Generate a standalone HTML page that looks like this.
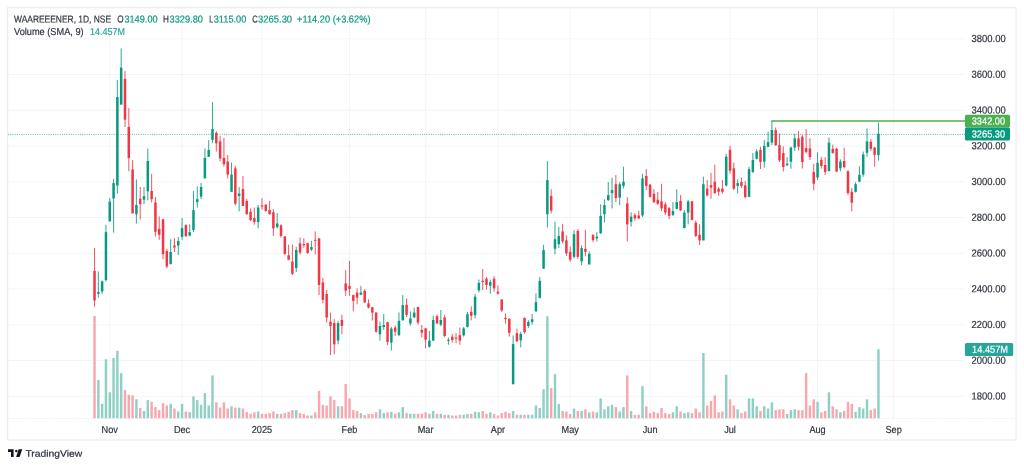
<!DOCTYPE html>
<html><head><meta charset="utf-8"><title>WAAREEENER chart</title>
<style>html,body{margin:0;padding:0;background:#fff;overflow:hidden}</style></head>
<body>
<svg width="1024" height="467" viewBox="0 0 1024 467" style="display:block;will-change:transform;opacity:0.999" text-rendering="geometricPrecision">
<rect width="1024" height="467" fill="#fff"/>
<g stroke="#f2f5f7" stroke-width="1">
<line x1="8" y1="396.30" x2="964.5" y2="396.30"/>
<line x1="8" y1="360.55" x2="964.5" y2="360.55"/>
<line x1="8" y1="324.80" x2="964.5" y2="324.80"/>
<line x1="8" y1="289.05" x2="964.5" y2="289.05"/>
<line x1="8" y1="253.30" x2="964.5" y2="253.30"/>
<line x1="8" y1="217.55" x2="964.5" y2="217.55"/>
<line x1="8" y1="181.80" x2="964.5" y2="181.80"/>
<line x1="8" y1="146.05" x2="964.5" y2="146.05"/>
<line x1="8" y1="110.30" x2="964.5" y2="110.30"/>
<line x1="8" y1="74.55" x2="964.5" y2="74.55"/>
<line x1="8" y1="38.80" x2="964.5" y2="38.80"/>
<line x1="109.76" y1="8" x2="109.76" y2="418.5"/>
<line x1="182.06" y1="8" x2="182.06" y2="418.5"/>
<line x1="261.97" y1="8" x2="261.97" y2="418.5"/>
<line x1="349.50" y1="8" x2="349.50" y2="418.5"/>
<line x1="425.60" y1="8" x2="425.60" y2="418.5"/>
<line x1="497.90" y1="8" x2="497.90" y2="418.5"/>
<line x1="570.20" y1="8" x2="570.20" y2="418.5"/>
<line x1="650.11" y1="8" x2="650.11" y2="418.5"/>
<line x1="730.03" y1="8" x2="730.03" y2="418.5"/>
<line x1="817.55" y1="8" x2="817.55" y2="418.5"/>
<line x1="893.60" y1="8" x2="893.60" y2="418.5"/>
</g>
<g>
<rect x="93.32" y="316.00" width="2.44" height="102.60" fill="#f9a7ae"/>
<rect x="97.13" y="380.10" width="2.44" height="38.50" fill="#8ed0c6"/>
<rect x="100.93" y="403.80" width="2.44" height="14.80" fill="#8ed0c6"/>
<rect x="104.74" y="359.20" width="2.44" height="59.40" fill="#8ed0c6"/>
<rect x="108.54" y="392.30" width="2.44" height="26.30" fill="#8ed0c6"/>
<rect x="112.35" y="357.90" width="2.44" height="60.70" fill="#8ed0c6"/>
<rect x="116.15" y="350.80" width="2.44" height="67.80" fill="#8ed0c6"/>
<rect x="119.96" y="373.10" width="2.44" height="45.50" fill="#8ed0c6"/>
<rect x="123.76" y="390.10" width="2.44" height="28.50" fill="#f9a7ae"/>
<rect x="127.57" y="394.80" width="2.44" height="23.80" fill="#f9a7ae"/>
<rect x="131.37" y="395.40" width="2.44" height="23.20" fill="#f9a7ae"/>
<rect x="135.18" y="399.30" width="2.44" height="19.30" fill="#8ed0c6"/>
<rect x="138.98" y="408.00" width="2.44" height="10.60" fill="#f9a7ae"/>
<rect x="142.79" y="411.00" width="2.44" height="7.60" fill="#8ed0c6"/>
<rect x="146.59" y="400.10" width="2.44" height="18.50" fill="#8ed0c6"/>
<rect x="150.40" y="401.80" width="2.44" height="16.80" fill="#f9a7ae"/>
<rect x="154.20" y="407.10" width="2.44" height="11.50" fill="#f9a7ae"/>
<rect x="158.01" y="410.10" width="2.44" height="8.50" fill="#f9a7ae"/>
<rect x="161.82" y="403.10" width="2.44" height="15.50" fill="#f9a7ae"/>
<rect x="165.62" y="405.50" width="2.44" height="13.10" fill="#f9a7ae"/>
<rect x="169.43" y="403.80" width="2.44" height="14.80" fill="#8ed0c6"/>
<rect x="173.23" y="408.50" width="2.44" height="10.10" fill="#f9a7ae"/>
<rect x="177.04" y="411.50" width="2.44" height="7.10" fill="#8ed0c6"/>
<rect x="180.84" y="403.80" width="2.44" height="14.80" fill="#8ed0c6"/>
<rect x="184.65" y="411.50" width="2.44" height="7.10" fill="#f9a7ae"/>
<rect x="188.45" y="412.10" width="2.44" height="6.50" fill="#8ed0c6"/>
<rect x="192.26" y="396.30" width="2.44" height="22.30" fill="#8ed0c6"/>
<rect x="196.06" y="400.10" width="2.44" height="18.50" fill="#8ed0c6"/>
<rect x="199.87" y="404.80" width="2.44" height="13.80" fill="#8ed0c6"/>
<rect x="203.67" y="393.10" width="2.44" height="25.50" fill="#8ed0c6"/>
<rect x="207.48" y="405.50" width="2.44" height="13.10" fill="#8ed0c6"/>
<rect x="211.28" y="375.40" width="2.44" height="43.20" fill="#8ed0c6"/>
<rect x="215.09" y="402.30" width="2.44" height="16.30" fill="#f9a7ae"/>
<rect x="218.89" y="407.60" width="2.44" height="11.00" fill="#f9a7ae"/>
<rect x="222.70" y="402.30" width="2.44" height="16.30" fill="#f9a7ae"/>
<rect x="226.51" y="408.50" width="2.44" height="10.10" fill="#f9a7ae"/>
<rect x="230.31" y="406.30" width="2.44" height="12.30" fill="#8ed0c6"/>
<rect x="234.12" y="407.60" width="2.44" height="11.00" fill="#f9a7ae"/>
<rect x="237.92" y="407.60" width="2.44" height="11.00" fill="#8ed0c6"/>
<rect x="241.73" y="408.50" width="2.44" height="10.10" fill="#f9a7ae"/>
<rect x="245.53" y="412.10" width="2.44" height="6.50" fill="#f9a7ae"/>
<rect x="249.34" y="413.80" width="2.44" height="4.80" fill="#f9a7ae"/>
<rect x="253.14" y="412.30" width="2.44" height="6.30" fill="#f9a7ae"/>
<rect x="256.95" y="411.50" width="2.44" height="7.10" fill="#8ed0c6"/>
<rect x="260.75" y="413.80" width="2.44" height="4.80" fill="#f9a7ae"/>
<rect x="264.56" y="413.80" width="2.44" height="4.80" fill="#f9a7ae"/>
<rect x="268.36" y="413.10" width="2.44" height="5.50" fill="#f9a7ae"/>
<rect x="272.17" y="411.50" width="2.44" height="7.10" fill="#f9a7ae"/>
<rect x="275.97" y="413.80" width="2.44" height="4.80" fill="#8ed0c6"/>
<rect x="279.78" y="413.80" width="2.44" height="4.80" fill="#f9a7ae"/>
<rect x="283.58" y="413.10" width="2.44" height="5.50" fill="#f9a7ae"/>
<rect x="287.39" y="411.80" width="2.44" height="6.80" fill="#f9a7ae"/>
<rect x="291.20" y="410.10" width="2.44" height="8.50" fill="#f9a7ae"/>
<rect x="295.00" y="410.10" width="2.44" height="8.50" fill="#8ed0c6"/>
<rect x="298.81" y="413.10" width="2.44" height="5.50" fill="#f9a7ae"/>
<rect x="302.61" y="413.80" width="2.44" height="4.80" fill="#f9a7ae"/>
<rect x="306.42" y="415.50" width="2.44" height="3.10" fill="#f9a7ae"/>
<rect x="310.22" y="415.50" width="2.44" height="3.10" fill="#8ed0c6"/>
<rect x="314.03" y="412.30" width="2.44" height="6.30" fill="#f9a7ae"/>
<rect x="317.83" y="390.90" width="2.44" height="27.70" fill="#f9a7ae"/>
<rect x="321.64" y="404.80" width="2.44" height="13.80" fill="#f9a7ae"/>
<rect x="325.44" y="405.50" width="2.44" height="13.10" fill="#f9a7ae"/>
<rect x="329.25" y="396.30" width="2.44" height="22.30" fill="#f9a7ae"/>
<rect x="333.05" y="400.10" width="2.44" height="18.50" fill="#f9a7ae"/>
<rect x="336.86" y="406.30" width="2.44" height="12.30" fill="#8ed0c6"/>
<rect x="340.66" y="406.30" width="2.44" height="12.30" fill="#f9a7ae"/>
<rect x="344.47" y="383.90" width="2.44" height="34.70" fill="#f9a7ae"/>
<rect x="348.28" y="398.40" width="2.44" height="20.20" fill="#f9a7ae"/>
<rect x="352.08" y="410.10" width="2.44" height="8.50" fill="#f9a7ae"/>
<rect x="355.89" y="411.00" width="2.44" height="7.60" fill="#f9a7ae"/>
<rect x="359.69" y="413.10" width="2.44" height="5.50" fill="#8ed0c6"/>
<rect x="363.50" y="415.10" width="2.44" height="3.50" fill="#f9a7ae"/>
<rect x="367.30" y="414.00" width="2.44" height="4.60" fill="#f9a7ae"/>
<rect x="371.11" y="414.00" width="2.44" height="4.60" fill="#f9a7ae"/>
<rect x="374.91" y="412.30" width="2.44" height="6.30" fill="#f9a7ae"/>
<rect x="378.72" y="409.30" width="2.44" height="9.30" fill="#8ed0c6"/>
<rect x="382.52" y="413.10" width="2.44" height="5.50" fill="#8ed0c6"/>
<rect x="386.33" y="412.30" width="2.44" height="6.30" fill="#f9a7ae"/>
<rect x="390.13" y="411.80" width="2.44" height="6.80" fill="#8ed0c6"/>
<rect x="393.94" y="413.80" width="2.44" height="4.80" fill="#f9a7ae"/>
<rect x="397.74" y="412.30" width="2.44" height="6.30" fill="#8ed0c6"/>
<rect x="401.55" y="407.10" width="2.44" height="11.50" fill="#8ed0c6"/>
<rect x="405.35" y="413.10" width="2.44" height="5.50" fill="#f9a7ae"/>
<rect x="409.16" y="413.80" width="2.44" height="4.80" fill="#8ed0c6"/>
<rect x="412.97" y="413.80" width="2.44" height="4.80" fill="#8ed0c6"/>
<rect x="416.77" y="413.80" width="2.44" height="4.80" fill="#f9a7ae"/>
<rect x="420.58" y="413.80" width="2.44" height="4.80" fill="#f9a7ae"/>
<rect x="424.38" y="412.30" width="2.44" height="6.30" fill="#f9a7ae"/>
<rect x="428.19" y="413.80" width="2.44" height="4.80" fill="#8ed0c6"/>
<rect x="431.99" y="411.00" width="2.44" height="7.60" fill="#8ed0c6"/>
<rect x="435.80" y="413.80" width="2.44" height="4.80" fill="#f9a7ae"/>
<rect x="439.60" y="413.80" width="2.44" height="4.80" fill="#8ed0c6"/>
<rect x="443.41" y="414.80" width="2.44" height="3.80" fill="#f9a7ae"/>
<rect x="447.21" y="414.80" width="2.44" height="3.80" fill="#8ed0c6"/>
<rect x="451.02" y="415.50" width="2.44" height="3.10" fill="#f9a7ae"/>
<rect x="454.82" y="415.50" width="2.44" height="3.10" fill="#f9a7ae"/>
<rect x="458.63" y="414.80" width="2.44" height="3.80" fill="#f9a7ae"/>
<rect x="462.43" y="414.80" width="2.44" height="3.80" fill="#8ed0c6"/>
<rect x="466.24" y="414.00" width="2.44" height="4.60" fill="#8ed0c6"/>
<rect x="470.04" y="413.80" width="2.44" height="4.80" fill="#f9a7ae"/>
<rect x="473.85" y="411.80" width="2.44" height="6.80" fill="#8ed0c6"/>
<rect x="477.66" y="412.30" width="2.44" height="6.30" fill="#8ed0c6"/>
<rect x="481.46" y="411.00" width="2.44" height="7.60" fill="#f9a7ae"/>
<rect x="485.27" y="413.80" width="2.44" height="4.80" fill="#f9a7ae"/>
<rect x="489.07" y="412.30" width="2.44" height="6.30" fill="#8ed0c6"/>
<rect x="492.88" y="414.00" width="2.44" height="4.60" fill="#f9a7ae"/>
<rect x="496.68" y="415.50" width="2.44" height="3.10" fill="#f9a7ae"/>
<rect x="500.49" y="413.10" width="2.44" height="5.50" fill="#f9a7ae"/>
<rect x="504.29" y="411.80" width="2.44" height="6.80" fill="#f9a7ae"/>
<rect x="508.10" y="413.10" width="2.44" height="5.50" fill="#f9a7ae"/>
<rect x="511.90" y="411.00" width="2.44" height="7.60" fill="#8ed0c6"/>
<rect x="515.71" y="414.80" width="2.44" height="3.80" fill="#f9a7ae"/>
<rect x="519.51" y="414.80" width="2.44" height="3.80" fill="#8ed0c6"/>
<rect x="523.32" y="414.80" width="2.44" height="3.80" fill="#f9a7ae"/>
<rect x="527.12" y="414.80" width="2.44" height="3.80" fill="#8ed0c6"/>
<rect x="530.93" y="414.80" width="2.44" height="3.80" fill="#8ed0c6"/>
<rect x="534.73" y="405.50" width="2.44" height="13.10" fill="#8ed0c6"/>
<rect x="538.54" y="408.00" width="2.44" height="10.60" fill="#8ed0c6"/>
<rect x="542.35" y="389.30" width="2.44" height="29.30" fill="#8ed0c6"/>
<rect x="546.15" y="316.20" width="2.44" height="102.40" fill="#8ed0c6"/>
<rect x="549.96" y="388.10" width="2.44" height="30.50" fill="#f9a7ae"/>
<rect x="553.76" y="374.20" width="2.44" height="44.40" fill="#8ed0c6"/>
<rect x="557.57" y="404.00" width="2.44" height="14.60" fill="#8ed0c6"/>
<rect x="561.37" y="411.00" width="2.44" height="7.60" fill="#f9a7ae"/>
<rect x="565.18" y="411.50" width="2.44" height="7.10" fill="#f9a7ae"/>
<rect x="568.98" y="414.00" width="2.44" height="4.60" fill="#f9a7ae"/>
<rect x="572.79" y="408.50" width="2.44" height="10.10" fill="#8ed0c6"/>
<rect x="576.59" y="411.00" width="2.44" height="7.60" fill="#f9a7ae"/>
<rect x="580.40" y="411.00" width="2.44" height="7.60" fill="#8ed0c6"/>
<rect x="584.20" y="409.30" width="2.44" height="9.30" fill="#f9a7ae"/>
<rect x="588.01" y="412.30" width="2.44" height="6.30" fill="#8ed0c6"/>
<rect x="591.81" y="411.50" width="2.44" height="7.10" fill="#f9a7ae"/>
<rect x="595.62" y="412.30" width="2.44" height="6.30" fill="#8ed0c6"/>
<rect x="599.42" y="398.40" width="2.44" height="20.20" fill="#8ed0c6"/>
<rect x="603.23" y="409.30" width="2.44" height="9.30" fill="#8ed0c6"/>
<rect x="607.04" y="406.30" width="2.44" height="12.30" fill="#8ed0c6"/>
<rect x="610.84" y="404.80" width="2.44" height="13.80" fill="#8ed0c6"/>
<rect x="614.65" y="407.10" width="2.44" height="11.50" fill="#f9a7ae"/>
<rect x="618.45" y="411.50" width="2.44" height="7.10" fill="#8ed0c6"/>
<rect x="622.26" y="407.10" width="2.44" height="11.50" fill="#8ed0c6"/>
<rect x="626.06" y="375.40" width="2.44" height="43.20" fill="#f9a7ae"/>
<rect x="629.87" y="411.00" width="2.44" height="7.60" fill="#8ed0c6"/>
<rect x="633.67" y="414.80" width="2.44" height="3.80" fill="#f9a7ae"/>
<rect x="637.48" y="414.80" width="2.44" height="3.80" fill="#f9a7ae"/>
<rect x="641.28" y="386.20" width="2.44" height="32.40" fill="#8ed0c6"/>
<rect x="645.09" y="406.30" width="2.44" height="12.30" fill="#f9a7ae"/>
<rect x="648.89" y="413.10" width="2.44" height="5.50" fill="#f9a7ae"/>
<rect x="652.70" y="411.80" width="2.44" height="6.80" fill="#f9a7ae"/>
<rect x="656.50" y="413.10" width="2.44" height="5.50" fill="#f9a7ae"/>
<rect x="660.31" y="408.00" width="2.44" height="10.60" fill="#f9a7ae"/>
<rect x="664.11" y="413.10" width="2.44" height="5.50" fill="#f9a7ae"/>
<rect x="667.92" y="414.00" width="2.44" height="4.60" fill="#f9a7ae"/>
<rect x="671.73" y="412.30" width="2.44" height="6.30" fill="#8ed0c6"/>
<rect x="675.53" y="406.30" width="2.44" height="12.30" fill="#8ed0c6"/>
<rect x="679.34" y="411.50" width="2.44" height="7.10" fill="#f9a7ae"/>
<rect x="683.14" y="413.10" width="2.44" height="5.50" fill="#8ed0c6"/>
<rect x="686.95" y="412.30" width="2.44" height="6.30" fill="#8ed0c6"/>
<rect x="690.75" y="413.10" width="2.44" height="5.50" fill="#f9a7ae"/>
<rect x="694.56" y="408.50" width="2.44" height="10.10" fill="#f9a7ae"/>
<rect x="698.36" y="412.30" width="2.44" height="6.30" fill="#f9a7ae"/>
<rect x="702.17" y="353.00" width="2.44" height="65.60" fill="#8ed0c6"/>
<rect x="705.97" y="405.50" width="2.44" height="13.10" fill="#f9a7ae"/>
<rect x="709.78" y="400.90" width="2.44" height="17.70" fill="#f9a7ae"/>
<rect x="713.58" y="395.40" width="2.44" height="23.20" fill="#f9a7ae"/>
<rect x="717.39" y="412.30" width="2.44" height="6.30" fill="#f9a7ae"/>
<rect x="721.19" y="411.50" width="2.44" height="7.10" fill="#f9a7ae"/>
<rect x="725.00" y="374.70" width="2.44" height="43.90" fill="#8ed0c6"/>
<rect x="728.81" y="399.30" width="2.44" height="19.30" fill="#f9a7ae"/>
<rect x="732.61" y="405.50" width="2.44" height="13.10" fill="#f9a7ae"/>
<rect x="736.42" y="409.30" width="2.44" height="9.30" fill="#8ed0c6"/>
<rect x="740.22" y="413.10" width="2.44" height="5.50" fill="#f9a7ae"/>
<rect x="744.03" y="411.50" width="2.44" height="7.10" fill="#f9a7ae"/>
<rect x="747.83" y="398.40" width="2.44" height="20.20" fill="#8ed0c6"/>
<rect x="751.64" y="398.40" width="2.44" height="20.20" fill="#8ed0c6"/>
<rect x="755.44" y="406.30" width="2.44" height="12.30" fill="#8ed0c6"/>
<rect x="759.25" y="411.00" width="2.44" height="7.60" fill="#f9a7ae"/>
<rect x="763.05" y="406.30" width="2.44" height="12.30" fill="#8ed0c6"/>
<rect x="766.86" y="408.50" width="2.44" height="10.10" fill="#8ed0c6"/>
<rect x="770.66" y="402.30" width="2.44" height="16.30" fill="#8ed0c6"/>
<rect x="774.47" y="410.10" width="2.44" height="8.50" fill="#f9a7ae"/>
<rect x="778.27" y="409.30" width="2.44" height="9.30" fill="#f9a7ae"/>
<rect x="782.08" y="409.30" width="2.44" height="9.30" fill="#f9a7ae"/>
<rect x="785.88" y="414.00" width="2.44" height="4.60" fill="#8ed0c6"/>
<rect x="789.69" y="410.10" width="2.44" height="8.50" fill="#8ed0c6"/>
<rect x="793.50" y="409.30" width="2.44" height="9.30" fill="#8ed0c6"/>
<rect x="797.30" y="410.10" width="2.44" height="8.50" fill="#f9a7ae"/>
<rect x="801.11" y="410.10" width="2.44" height="8.50" fill="#f9a7ae"/>
<rect x="804.91" y="373.10" width="2.44" height="45.50" fill="#f9a7ae"/>
<rect x="808.72" y="405.50" width="2.44" height="13.10" fill="#f9a7ae"/>
<rect x="812.52" y="399.30" width="2.44" height="19.30" fill="#f9a7ae"/>
<rect x="816.33" y="401.80" width="2.44" height="16.80" fill="#8ed0c6"/>
<rect x="820.13" y="412.30" width="2.44" height="6.30" fill="#f9a7ae"/>
<rect x="823.94" y="411.00" width="2.44" height="7.60" fill="#f9a7ae"/>
<rect x="827.74" y="392.30" width="2.44" height="26.30" fill="#8ed0c6"/>
<rect x="831.55" y="406.30" width="2.44" height="12.30" fill="#f9a7ae"/>
<rect x="835.35" y="409.30" width="2.44" height="9.30" fill="#f9a7ae"/>
<rect x="839.16" y="412.30" width="2.44" height="6.30" fill="#8ed0c6"/>
<rect x="842.96" y="411.00" width="2.44" height="7.60" fill="#f9a7ae"/>
<rect x="846.77" y="401.80" width="2.44" height="16.80" fill="#f9a7ae"/>
<rect x="850.57" y="404.00" width="2.44" height="14.60" fill="#f9a7ae"/>
<rect x="854.38" y="411.80" width="2.44" height="6.80" fill="#8ed0c6"/>
<rect x="858.19" y="407.10" width="2.44" height="11.50" fill="#8ed0c6"/>
<rect x="861.99" y="408.50" width="2.44" height="10.10" fill="#8ed0c6"/>
<rect x="865.80" y="399.30" width="2.44" height="19.30" fill="#8ed0c6"/>
<rect x="869.60" y="410.10" width="2.44" height="8.50" fill="#f9a7ae"/>
<rect x="873.41" y="408.50" width="2.44" height="10.10" fill="#f9a7ae"/>
<rect x="877.21" y="349.20" width="2.44" height="69.40" fill="#8ed0c6"/>
</g>
<line x1="8" y1="134.4" x2="965" y2="134.4" stroke="#089981" stroke-width="0.9" stroke-dasharray="0.9 1.35" opacity="0.85"/>
<g>
<rect x="94.02" y="248.00" width="1.04" height="58.80" fill="#f23645" opacity="0.82"/>
<rect x="93.29" y="270.90" width="2.5" height="29.60" fill="#f23645"/>
<rect x="97.83" y="271.40" width="1.04" height="26.20" fill="#089981" opacity="0.82"/>
<rect x="97.10" y="292.10" width="2.5" height="1.70" fill="#089981"/>
<rect x="101.63" y="280.60" width="1.04" height="13.20" fill="#089981" opacity="0.82"/>
<rect x="100.90" y="281.40" width="2.5" height="10.00" fill="#089981"/>
<rect x="105.44" y="224.80" width="1.04" height="56.60" fill="#089981" opacity="0.82"/>
<rect x="104.71" y="232.10" width="2.5" height="48.00" fill="#089981"/>
<rect x="109.24" y="198.00" width="1.04" height="23.40" fill="#089981" opacity="0.82"/>
<rect x="108.51" y="201.70" width="2.5" height="19.70" fill="#089981"/>
<rect x="113.05" y="178.75" width="1.04" height="53.85" fill="#089981" opacity="0.82"/>
<rect x="112.32" y="183.10" width="2.5" height="15.30" fill="#089981"/>
<rect x="116.85" y="80.10" width="1.04" height="113.50" fill="#089981" opacity="0.82"/>
<rect x="116.12" y="97.10" width="2.5" height="88.40" fill="#089981"/>
<rect x="120.66" y="48.30" width="1.04" height="56.30" fill="#089981" opacity="0.82"/>
<rect x="119.93" y="67.60" width="2.5" height="37.00" fill="#089981"/>
<rect x="124.46" y="70.80" width="1.04" height="56.40" fill="#f23645" opacity="0.82"/>
<rect x="123.73" y="78.80" width="2.5" height="40.90" fill="#f23645"/>
<rect x="128.27" y="108.10" width="1.04" height="63.15" fill="#f23645" opacity="0.82"/>
<rect x="127.54" y="126.90" width="2.5" height="31.20" fill="#f23645"/>
<rect x="132.07" y="160.00" width="1.04" height="53.40" fill="#f23645" opacity="0.82"/>
<rect x="131.34" y="169.40" width="2.5" height="44.00" fill="#f23645"/>
<rect x="135.88" y="179.40" width="1.04" height="44.00" fill="#089981" opacity="0.82"/>
<rect x="135.15" y="205.00" width="2.5" height="9.20" fill="#089981"/>
<rect x="139.68" y="187.00" width="1.04" height="32.70" fill="#f23645" opacity="0.82"/>
<rect x="138.95" y="198.70" width="2.5" height="5.50" fill="#f23645"/>
<rect x="143.49" y="187.00" width="1.04" height="17.20" fill="#089981" opacity="0.82"/>
<rect x="142.76" y="196.20" width="2.5" height="3.50" fill="#089981"/>
<rect x="147.29" y="148.50" width="1.04" height="51.90" fill="#089981" opacity="0.82"/>
<rect x="146.56" y="161.00" width="2.5" height="30.30" fill="#089981"/>
<rect x="151.10" y="174.00" width="1.04" height="28.50" fill="#f23645" opacity="0.82"/>
<rect x="150.37" y="191.00" width="2.5" height="8.20" fill="#f23645"/>
<rect x="154.90" y="197.00" width="1.04" height="39.40" fill="#f23645" opacity="0.82"/>
<rect x="154.17" y="202.50" width="2.5" height="29.30" fill="#f23645"/>
<rect x="158.71" y="216.40" width="1.04" height="23.40" fill="#f23645" opacity="0.82"/>
<rect x="157.98" y="228.80" width="2.5" height="6.00" fill="#f23645"/>
<rect x="162.52" y="219.20" width="1.04" height="40.00" fill="#f23645" opacity="0.82"/>
<rect x="161.79" y="219.20" width="2.5" height="35.00" fill="#f23645"/>
<rect x="166.32" y="249.20" width="1.04" height="19.20" fill="#f23645" opacity="0.82"/>
<rect x="165.59" y="250.90" width="2.5" height="15.50" fill="#f23645"/>
<rect x="170.13" y="239.30" width="1.04" height="25.40" fill="#089981" opacity="0.82"/>
<rect x="169.40" y="251.90" width="2.5" height="12.00" fill="#089981"/>
<rect x="173.93" y="238.10" width="1.04" height="13.90" fill="#f23645" opacity="0.82"/>
<rect x="173.20" y="245.50" width="2.5" height="2.00" fill="#f23645"/>
<rect x="177.74" y="237.10" width="1.04" height="17.90" fill="#089981" opacity="0.82"/>
<rect x="177.01" y="241.00" width="2.5" height="4.50" fill="#089981"/>
<rect x="181.54" y="218.00" width="1.04" height="21.80" fill="#089981" opacity="0.82"/>
<rect x="180.81" y="228.10" width="2.5" height="8.70" fill="#089981"/>
<rect x="185.35" y="224.30" width="1.04" height="12.10" fill="#f23645" opacity="0.82"/>
<rect x="184.62" y="225.10" width="2.5" height="11.30" fill="#f23645"/>
<rect x="189.15" y="224.30" width="1.04" height="12.10" fill="#089981" opacity="0.82"/>
<rect x="188.42" y="232.10" width="2.5" height="3.50" fill="#089981"/>
<rect x="192.96" y="190.90" width="1.04" height="41.20" fill="#089981" opacity="0.82"/>
<rect x="192.23" y="210.10" width="2.5" height="20.00" fill="#089981"/>
<rect x="196.76" y="186.30" width="1.04" height="21.30" fill="#089981" opacity="0.82"/>
<rect x="196.03" y="199.20" width="2.5" height="3.00" fill="#089981"/>
<rect x="200.57" y="183.00" width="1.04" height="16.00" fill="#089981" opacity="0.82"/>
<rect x="199.84" y="187.00" width="2.5" height="9.70" fill="#089981"/>
<rect x="204.37" y="148.60" width="1.04" height="29.70" fill="#089981" opacity="0.82"/>
<rect x="203.64" y="158.00" width="2.5" height="20.30" fill="#089981"/>
<rect x="208.18" y="140.10" width="1.04" height="16.70" fill="#089981" opacity="0.82"/>
<rect x="207.45" y="150.00" width="2.5" height="6.80" fill="#089981"/>
<rect x="211.98" y="102.10" width="1.04" height="41.10" fill="#089981" opacity="0.82"/>
<rect x="211.25" y="129.00" width="2.5" height="10.90" fill="#089981"/>
<rect x="215.79" y="131.30" width="1.04" height="20.30" fill="#f23645" opacity="0.82"/>
<rect x="215.06" y="132.80" width="2.5" height="10.50" fill="#f23645"/>
<rect x="219.59" y="135.80" width="1.04" height="25.60" fill="#f23645" opacity="0.82"/>
<rect x="218.86" y="141.40" width="2.5" height="17.00" fill="#f23645"/>
<rect x="223.40" y="137.80" width="1.04" height="29.00" fill="#f23645" opacity="0.82"/>
<rect x="222.67" y="157.90" width="2.5" height="6.30" fill="#f23645"/>
<rect x="227.21" y="155.00" width="1.04" height="23.40" fill="#f23645" opacity="0.82"/>
<rect x="226.48" y="161.70" width="2.5" height="12.90" fill="#f23645"/>
<rect x="231.01" y="162.60" width="1.04" height="29.20" fill="#089981" opacity="0.82"/>
<rect x="230.28" y="174.60" width="2.5" height="17.20" fill="#089981"/>
<rect x="234.82" y="165.90" width="1.04" height="39.50" fill="#f23645" opacity="0.82"/>
<rect x="234.09" y="168.40" width="2.5" height="35.30" fill="#f23645"/>
<rect x="238.62" y="187.00" width="1.04" height="24.40" fill="#089981" opacity="0.82"/>
<rect x="237.89" y="193.60" width="2.5" height="2.40" fill="#089981"/>
<rect x="242.43" y="175.90" width="1.04" height="30.00" fill="#f23645" opacity="0.82"/>
<rect x="241.70" y="189.10" width="2.5" height="16.80" fill="#f23645"/>
<rect x="246.23" y="199.00" width="1.04" height="16.00" fill="#f23645" opacity="0.82"/>
<rect x="245.50" y="200.90" width="2.5" height="13.10" fill="#f23645"/>
<rect x="250.04" y="208.40" width="1.04" height="12.50" fill="#f23645" opacity="0.82"/>
<rect x="249.31" y="211.70" width="2.5" height="8.40" fill="#f23645"/>
<rect x="253.84" y="207.50" width="1.04" height="17.20" fill="#f23645" opacity="0.82"/>
<rect x="253.11" y="218.10" width="2.5" height="4.00" fill="#f23645"/>
<rect x="257.65" y="205.00" width="1.04" height="23.40" fill="#089981" opacity="0.82"/>
<rect x="256.92" y="207.50" width="2.5" height="14.60" fill="#089981"/>
<rect x="261.45" y="198.00" width="1.04" height="11.70" fill="#f23645" opacity="0.82"/>
<rect x="260.72" y="205.40" width="2.5" height="1.30" fill="#f23645"/>
<rect x="265.26" y="204.20" width="1.04" height="7.50" fill="#f23645" opacity="0.82"/>
<rect x="264.53" y="204.70" width="2.5" height="6.20" fill="#f23645"/>
<rect x="269.06" y="200.90" width="1.04" height="13.80" fill="#f23645" opacity="0.82"/>
<rect x="268.33" y="210.00" width="2.5" height="4.20" fill="#f23645"/>
<rect x="272.87" y="209.20" width="1.04" height="26.70" fill="#f23645" opacity="0.82"/>
<rect x="272.14" y="212.20" width="2.5" height="16.20" fill="#f23645"/>
<rect x="276.67" y="213.00" width="1.04" height="15.40" fill="#089981" opacity="0.82"/>
<rect x="275.94" y="223.40" width="2.5" height="3.70" fill="#089981"/>
<rect x="280.48" y="224.20" width="1.04" height="13.40" fill="#f23645" opacity="0.82"/>
<rect x="279.75" y="225.40" width="2.5" height="10.50" fill="#f23645"/>
<rect x="284.29" y="236.40" width="1.04" height="18.40" fill="#f23645" opacity="0.82"/>
<rect x="283.56" y="236.40" width="2.5" height="17.50" fill="#f23645"/>
<rect x="288.09" y="244.70" width="1.04" height="15.50" fill="#f23645" opacity="0.82"/>
<rect x="287.36" y="255.30" width="2.5" height="4.40" fill="#f23645"/>
<rect x="291.90" y="244.50" width="1.04" height="30.60" fill="#f23645" opacity="0.82"/>
<rect x="291.17" y="261.60" width="2.5" height="12.20" fill="#f23645"/>
<rect x="295.70" y="246.70" width="1.04" height="25.40" fill="#089981" opacity="0.82"/>
<rect x="294.97" y="250.00" width="2.5" height="18.10" fill="#089981"/>
<rect x="299.51" y="237.50" width="1.04" height="17.00" fill="#f23645" opacity="0.82"/>
<rect x="298.78" y="243.40" width="2.5" height="9.20" fill="#f23645"/>
<rect x="303.31" y="238.40" width="1.04" height="9.40" fill="#f23645" opacity="0.82"/>
<rect x="302.58" y="244.00" width="2.5" height="1.30" fill="#f23645"/>
<rect x="307.12" y="242.60" width="1.04" height="11.20" fill="#f23645" opacity="0.82"/>
<rect x="306.39" y="243.20" width="2.5" height="9.80" fill="#f23645"/>
<rect x="310.92" y="240.90" width="1.04" height="10.10" fill="#089981" opacity="0.82"/>
<rect x="310.19" y="247.00" width="2.5" height="2.70" fill="#089981"/>
<rect x="314.73" y="231.30" width="1.04" height="23.20" fill="#f23645" opacity="0.82"/>
<rect x="314.00" y="239.80" width="2.5" height="1.00" fill="#f23645"/>
<rect x="318.53" y="238.10" width="1.04" height="57.00" fill="#f23645" opacity="0.82"/>
<rect x="317.80" y="238.40" width="2.5" height="46.60" fill="#f23645"/>
<rect x="322.34" y="278.00" width="1.04" height="25.40" fill="#f23645" opacity="0.82"/>
<rect x="321.61" y="282.40" width="2.5" height="17.40" fill="#f23645"/>
<rect x="326.14" y="290.10" width="1.04" height="32.40" fill="#f23645" opacity="0.82"/>
<rect x="325.41" y="294.00" width="2.5" height="23.50" fill="#f23645"/>
<rect x="329.95" y="312.50" width="1.04" height="42.60" fill="#f23645" opacity="0.82"/>
<rect x="329.22" y="321.70" width="2.5" height="4.20" fill="#f23645"/>
<rect x="333.75" y="319.20" width="1.04" height="35.10" fill="#f23645" opacity="0.82"/>
<rect x="333.02" y="323.00" width="2.5" height="21.30" fill="#f23645"/>
<rect x="337.56" y="320.90" width="1.04" height="23.40" fill="#089981" opacity="0.82"/>
<rect x="336.83" y="323.00" width="2.5" height="17.60" fill="#089981"/>
<rect x="341.36" y="314.70" width="1.04" height="19.50" fill="#f23645" opacity="0.82"/>
<rect x="340.63" y="320.00" width="2.5" height="5.90" fill="#f23645"/>
<rect x="345.17" y="270.00" width="1.04" height="25.90" fill="#f23645" opacity="0.82"/>
<rect x="344.44" y="283.40" width="2.5" height="7.20" fill="#f23645"/>
<rect x="348.98" y="260.80" width="1.04" height="35.10" fill="#f23645" opacity="0.82"/>
<rect x="348.25" y="285.90" width="2.5" height="3.00" fill="#f23645"/>
<rect x="352.78" y="294.70" width="1.04" height="16.70" fill="#f23645" opacity="0.82"/>
<rect x="352.05" y="295.10" width="2.5" height="5.80" fill="#f23645"/>
<rect x="356.59" y="288.40" width="1.04" height="15.90" fill="#f23645" opacity="0.82"/>
<rect x="355.86" y="292.60" width="2.5" height="5.00" fill="#f23645"/>
<rect x="360.39" y="285.90" width="1.04" height="9.20" fill="#089981" opacity="0.82"/>
<rect x="359.66" y="292.60" width="2.5" height="2.10" fill="#089981"/>
<rect x="364.20" y="289.20" width="1.04" height="13.90" fill="#f23645" opacity="0.82"/>
<rect x="363.47" y="290.90" width="2.5" height="11.40" fill="#f23645"/>
<rect x="368.00" y="299.30" width="1.04" height="9.10" fill="#f23645" opacity="0.82"/>
<rect x="367.27" y="303.40" width="2.5" height="4.20" fill="#f23645"/>
<rect x="371.81" y="306.80" width="1.04" height="13.70" fill="#f23645" opacity="0.82"/>
<rect x="371.08" y="307.30" width="2.5" height="5.30" fill="#f23645"/>
<rect x="375.61" y="312.50" width="1.04" height="20.10" fill="#f23645" opacity="0.82"/>
<rect x="374.88" y="312.50" width="2.5" height="19.20" fill="#f23645"/>
<rect x="379.42" y="321.60" width="1.04" height="19.00" fill="#089981" opacity="0.82"/>
<rect x="378.69" y="326.00" width="2.5" height="8.20" fill="#089981"/>
<rect x="383.22" y="314.00" width="1.04" height="15.90" fill="#089981" opacity="0.82"/>
<rect x="382.49" y="325.00" width="2.5" height="2.00" fill="#089981"/>
<rect x="387.03" y="321.70" width="1.04" height="23.40" fill="#f23645" opacity="0.82"/>
<rect x="386.30" y="322.20" width="2.5" height="19.60" fill="#f23645"/>
<rect x="390.83" y="326.70" width="1.04" height="23.70" fill="#089981" opacity="0.82"/>
<rect x="390.10" y="328.60" width="2.5" height="14.00" fill="#089981"/>
<rect x="394.64" y="325.50" width="1.04" height="10.40" fill="#f23645" opacity="0.82"/>
<rect x="393.91" y="327.50" width="2.5" height="4.20" fill="#f23645"/>
<rect x="398.44" y="312.50" width="1.04" height="23.40" fill="#089981" opacity="0.82"/>
<rect x="397.71" y="320.90" width="2.5" height="14.20" fill="#089981"/>
<rect x="402.25" y="295.10" width="1.04" height="25.90" fill="#089981" opacity="0.82"/>
<rect x="401.52" y="305.10" width="2.5" height="15.00" fill="#089981"/>
<rect x="406.05" y="298.40" width="1.04" height="18.70" fill="#f23645" opacity="0.82"/>
<rect x="405.32" y="304.80" width="2.5" height="10.00" fill="#f23645"/>
<rect x="409.86" y="311.40" width="1.04" height="14.10" fill="#089981" opacity="0.82"/>
<rect x="409.13" y="318.50" width="2.5" height="5.00" fill="#089981"/>
<rect x="413.67" y="307.60" width="1.04" height="10.50" fill="#089981" opacity="0.82"/>
<rect x="412.94" y="312.60" width="2.5" height="4.70" fill="#089981"/>
<rect x="417.47" y="306.80" width="1.04" height="18.00" fill="#f23645" opacity="0.82"/>
<rect x="416.74" y="307.10" width="2.5" height="15.50" fill="#f23645"/>
<rect x="421.28" y="325.00" width="1.04" height="12.60" fill="#f23645" opacity="0.82"/>
<rect x="420.55" y="330.00" width="2.5" height="2.60" fill="#f23645"/>
<rect x="425.08" y="328.00" width="1.04" height="20.40" fill="#f23645" opacity="0.82"/>
<rect x="424.35" y="328.40" width="2.5" height="11.30" fill="#f23645"/>
<rect x="428.89" y="330.90" width="1.04" height="16.70" fill="#089981" opacity="0.82"/>
<rect x="428.16" y="340.60" width="2.5" height="6.20" fill="#089981"/>
<rect x="432.69" y="315.90" width="1.04" height="25.10" fill="#089981" opacity="0.82"/>
<rect x="431.96" y="320.00" width="2.5" height="20.60" fill="#089981"/>
<rect x="436.50" y="314.50" width="1.04" height="9.70" fill="#f23645" opacity="0.82"/>
<rect x="435.77" y="316.20" width="2.5" height="7.20" fill="#f23645"/>
<rect x="440.30" y="310.00" width="1.04" height="16.20" fill="#089981" opacity="0.82"/>
<rect x="439.57" y="320.00" width="2.5" height="4.60" fill="#089981"/>
<rect x="444.11" y="315.00" width="1.04" height="22.40" fill="#f23645" opacity="0.82"/>
<rect x="443.38" y="317.50" width="2.5" height="18.50" fill="#f23645"/>
<rect x="447.91" y="337.60" width="1.04" height="7.20" fill="#089981" opacity="0.82"/>
<rect x="447.18" y="339.70" width="2.5" height="1.20" fill="#089981"/>
<rect x="451.72" y="333.90" width="1.04" height="8.70" fill="#f23645" opacity="0.82"/>
<rect x="450.99" y="336.70" width="2.5" height="3.40" fill="#f23645"/>
<rect x="455.52" y="333.10" width="1.04" height="10.00" fill="#f23645" opacity="0.82"/>
<rect x="454.79" y="337.60" width="2.5" height="1.10" fill="#f23645"/>
<rect x="459.33" y="327.60" width="1.04" height="17.20" fill="#f23645" opacity="0.82"/>
<rect x="458.60" y="335.10" width="2.5" height="5.50" fill="#f23645"/>
<rect x="463.13" y="326.90" width="1.04" height="9.80" fill="#089981" opacity="0.82"/>
<rect x="462.40" y="328.40" width="2.5" height="6.90" fill="#089981"/>
<rect x="466.94" y="311.80" width="1.04" height="15.70" fill="#089981" opacity="0.82"/>
<rect x="466.21" y="314.20" width="2.5" height="12.60" fill="#089981"/>
<rect x="470.74" y="306.30" width="1.04" height="14.10" fill="#f23645" opacity="0.82"/>
<rect x="470.01" y="311.80" width="2.5" height="4.00" fill="#f23645"/>
<rect x="474.55" y="293.70" width="1.04" height="24.70" fill="#089981" opacity="0.82"/>
<rect x="473.82" y="296.70" width="2.5" height="18.40" fill="#089981"/>
<rect x="478.36" y="279.50" width="1.04" height="12.90" fill="#089981" opacity="0.82"/>
<rect x="477.63" y="282.90" width="2.5" height="7.50" fill="#089981"/>
<rect x="482.16" y="269.00" width="1.04" height="21.10" fill="#f23645" opacity="0.82"/>
<rect x="481.43" y="280.70" width="2.5" height="1.30" fill="#f23645"/>
<rect x="485.97" y="277.00" width="1.04" height="12.60" fill="#f23645" opacity="0.82"/>
<rect x="485.24" y="278.70" width="2.5" height="6.30" fill="#f23645"/>
<rect x="489.77" y="279.50" width="1.04" height="14.20" fill="#089981" opacity="0.82"/>
<rect x="489.04" y="282.00" width="2.5" height="3.70" fill="#089981"/>
<rect x="493.58" y="276.20" width="1.04" height="15.50" fill="#f23645" opacity="0.82"/>
<rect x="492.85" y="278.70" width="2.5" height="9.70" fill="#f23645"/>
<rect x="497.38" y="285.40" width="1.04" height="9.20" fill="#f23645" opacity="0.82"/>
<rect x="496.65" y="291.70" width="2.5" height="2.00" fill="#f23645"/>
<rect x="501.19" y="299.10" width="1.04" height="13.00" fill="#f23645" opacity="0.82"/>
<rect x="500.46" y="299.60" width="2.5" height="10.80" fill="#f23645"/>
<rect x="504.99" y="313.40" width="1.04" height="10.20" fill="#f23645" opacity="0.82"/>
<rect x="504.26" y="317.90" width="2.5" height="1.20" fill="#f23645"/>
<rect x="508.80" y="318.40" width="1.04" height="18.30" fill="#f23645" opacity="0.82"/>
<rect x="508.07" y="318.80" width="2.5" height="14.00" fill="#f23645"/>
<rect x="512.60" y="335.40" width="1.04" height="49.20" fill="#089981" opacity="0.82"/>
<rect x="511.87" y="344.10" width="2.5" height="40.00" fill="#089981"/>
<rect x="516.41" y="328.60" width="1.04" height="13.50" fill="#f23645" opacity="0.82"/>
<rect x="515.68" y="333.20" width="2.5" height="8.00" fill="#f23645"/>
<rect x="520.21" y="331.70" width="1.04" height="15.70" fill="#089981" opacity="0.82"/>
<rect x="519.48" y="333.90" width="2.5" height="6.50" fill="#089981"/>
<rect x="524.02" y="317.40" width="1.04" height="16.30" fill="#f23645" opacity="0.82"/>
<rect x="523.29" y="317.90" width="2.5" height="14.30" fill="#f23645"/>
<rect x="527.82" y="320.20" width="1.04" height="8.00" fill="#089981" opacity="0.82"/>
<rect x="527.09" y="321.90" width="2.5" height="4.10" fill="#089981"/>
<rect x="531.63" y="314.00" width="1.04" height="10.50" fill="#089981" opacity="0.82"/>
<rect x="530.90" y="319.30" width="2.5" height="2.70" fill="#089981"/>
<rect x="535.43" y="293.40" width="1.04" height="18.40" fill="#089981" opacity="0.82"/>
<rect x="534.70" y="302.10" width="2.5" height="9.20" fill="#089981"/>
<rect x="539.24" y="277.00" width="1.04" height="21.40" fill="#089981" opacity="0.82"/>
<rect x="538.51" y="280.80" width="2.5" height="17.10" fill="#089981"/>
<rect x="543.05" y="244.70" width="1.04" height="24.20" fill="#089981" opacity="0.82"/>
<rect x="542.32" y="250.10" width="2.5" height="18.50" fill="#089981"/>
<rect x="546.85" y="160.90" width="1.04" height="66.60" fill="#089981" opacity="0.82"/>
<rect x="546.12" y="180.10" width="2.5" height="34.10" fill="#089981"/>
<rect x="550.66" y="189.20" width="1.04" height="24.20" fill="#f23645" opacity="0.82"/>
<rect x="549.93" y="195.90" width="2.5" height="14.70" fill="#f23645"/>
<rect x="554.46" y="221.60" width="1.04" height="32.70" fill="#089981" opacity="0.82"/>
<rect x="553.73" y="239.20" width="2.5" height="9.60" fill="#089981"/>
<rect x="558.27" y="226.90" width="1.04" height="21.20" fill="#089981" opacity="0.82"/>
<rect x="557.54" y="235.90" width="2.5" height="8.30" fill="#089981"/>
<rect x="562.07" y="223.80" width="1.04" height="19.60" fill="#f23645" opacity="0.82"/>
<rect x="561.34" y="231.40" width="2.5" height="10.00" fill="#f23645"/>
<rect x="565.88" y="235.40" width="1.04" height="20.50" fill="#f23645" opacity="0.82"/>
<rect x="565.15" y="240.40" width="2.5" height="13.00" fill="#f23645"/>
<rect x="569.68" y="246.40" width="1.04" height="15.40" fill="#f23645" opacity="0.82"/>
<rect x="568.95" y="251.80" width="2.5" height="8.00" fill="#f23645"/>
<rect x="573.49" y="230.00" width="1.04" height="28.40" fill="#089981" opacity="0.82"/>
<rect x="572.76" y="234.20" width="2.5" height="22.60" fill="#089981"/>
<rect x="577.29" y="229.20" width="1.04" height="29.60" fill="#f23645" opacity="0.82"/>
<rect x="576.56" y="230.90" width="2.5" height="25.90" fill="#f23645"/>
<rect x="581.10" y="245.40" width="1.04" height="19.70" fill="#089981" opacity="0.82"/>
<rect x="580.37" y="248.10" width="2.5" height="13.30" fill="#089981"/>
<rect x="584.90" y="230.00" width="1.04" height="26.40" fill="#f23645" opacity="0.82"/>
<rect x="584.17" y="248.80" width="2.5" height="3.00" fill="#f23645"/>
<rect x="588.71" y="251.40" width="1.04" height="13.40" fill="#089981" opacity="0.82"/>
<rect x="587.98" y="253.80" width="2.5" height="10.50" fill="#089981"/>
<rect x="592.51" y="234.20" width="1.04" height="7.90" fill="#f23645" opacity="0.82"/>
<rect x="591.78" y="235.10" width="2.5" height="5.00" fill="#f23645"/>
<rect x="596.32" y="232.10" width="1.04" height="9.30" fill="#089981" opacity="0.82"/>
<rect x="595.59" y="236.70" width="2.5" height="1.70" fill="#089981"/>
<rect x="600.12" y="204.30" width="1.04" height="29.40" fill="#089981" opacity="0.82"/>
<rect x="599.39" y="216.00" width="2.5" height="17.40" fill="#089981"/>
<rect x="603.93" y="199.30" width="1.04" height="23.20" fill="#089981" opacity="0.82"/>
<rect x="603.20" y="205.10" width="2.5" height="9.10" fill="#089981"/>
<rect x="607.74" y="182.10" width="1.04" height="18.80" fill="#089981" opacity="0.82"/>
<rect x="607.01" y="195.10" width="2.5" height="5.00" fill="#089981"/>
<rect x="611.54" y="177.60" width="1.04" height="30.80" fill="#089981" opacity="0.82"/>
<rect x="610.81" y="190.10" width="2.5" height="3.00" fill="#089981"/>
<rect x="615.35" y="175.00" width="1.04" height="27.10" fill="#f23645" opacity="0.82"/>
<rect x="614.62" y="184.20" width="2.5" height="13.90" fill="#f23645"/>
<rect x="619.15" y="182.10" width="1.04" height="23.00" fill="#089981" opacity="0.82"/>
<rect x="618.42" y="184.20" width="2.5" height="13.40" fill="#089981"/>
<rect x="622.96" y="166.70" width="1.04" height="21.70" fill="#089981" opacity="0.82"/>
<rect x="622.23" y="181.70" width="2.5" height="4.20" fill="#089981"/>
<rect x="626.76" y="197.10" width="1.04" height="44.30" fill="#f23645" opacity="0.82"/>
<rect x="626.03" y="203.40" width="2.5" height="21.00" fill="#f23645"/>
<rect x="630.57" y="212.30" width="1.04" height="14.30" fill="#089981" opacity="0.82"/>
<rect x="629.84" y="216.70" width="2.5" height="5.20" fill="#089981"/>
<rect x="634.37" y="213.10" width="1.04" height="7.80" fill="#f23645" opacity="0.82"/>
<rect x="633.64" y="215.10" width="2.5" height="3.30" fill="#f23645"/>
<rect x="638.18" y="210.90" width="1.04" height="8.40" fill="#f23645" opacity="0.82"/>
<rect x="637.45" y="215.50" width="2.5" height="2.90" fill="#f23645"/>
<rect x="641.98" y="173.70" width="1.04" height="43.20" fill="#089981" opacity="0.82"/>
<rect x="641.25" y="178.40" width="2.5" height="37.00" fill="#089981"/>
<rect x="645.79" y="169.20" width="1.04" height="20.90" fill="#f23645" opacity="0.82"/>
<rect x="645.06" y="175.90" width="2.5" height="10.00" fill="#f23645"/>
<rect x="649.59" y="184.20" width="1.04" height="13.40" fill="#f23645" opacity="0.82"/>
<rect x="648.86" y="184.70" width="2.5" height="12.10" fill="#f23645"/>
<rect x="653.40" y="189.20" width="1.04" height="13.90" fill="#f23645" opacity="0.82"/>
<rect x="652.67" y="193.80" width="2.5" height="8.30" fill="#f23645"/>
<rect x="657.20" y="192.10" width="1.04" height="13.00" fill="#f23645" opacity="0.82"/>
<rect x="656.47" y="199.80" width="2.5" height="4.00" fill="#f23645"/>
<rect x="661.01" y="183.70" width="1.04" height="27.30" fill="#f23645" opacity="0.82"/>
<rect x="660.28" y="201.40" width="2.5" height="7.00" fill="#f23645"/>
<rect x="664.81" y="202.10" width="1.04" height="13.00" fill="#f23645" opacity="0.82"/>
<rect x="664.08" y="204.30" width="2.5" height="8.30" fill="#f23645"/>
<rect x="668.62" y="206.80" width="1.04" height="12.20" fill="#f23645" opacity="0.82"/>
<rect x="667.89" y="208.10" width="2.5" height="7.80" fill="#f23645"/>
<rect x="672.43" y="202.10" width="1.04" height="13.90" fill="#089981" opacity="0.82"/>
<rect x="671.70" y="211.00" width="2.5" height="3.80" fill="#089981"/>
<rect x="676.23" y="189.20" width="1.04" height="20.10" fill="#089981" opacity="0.82"/>
<rect x="675.50" y="202.10" width="2.5" height="6.70" fill="#089981"/>
<rect x="680.04" y="195.10" width="1.04" height="15.90" fill="#f23645" opacity="0.82"/>
<rect x="679.31" y="200.90" width="2.5" height="9.40" fill="#f23645"/>
<rect x="683.84" y="210.10" width="1.04" height="18.30" fill="#089981" opacity="0.82"/>
<rect x="683.11" y="212.60" width="2.5" height="15.40" fill="#089981"/>
<rect x="687.65" y="199.80" width="1.04" height="24.50" fill="#089981" opacity="0.82"/>
<rect x="686.92" y="201.40" width="2.5" height="11.20" fill="#089981"/>
<rect x="691.45" y="200.90" width="1.04" height="19.60" fill="#f23645" opacity="0.82"/>
<rect x="690.72" y="201.40" width="2.5" height="18.50" fill="#f23645"/>
<rect x="695.26" y="220.40" width="1.04" height="16.70" fill="#f23645" opacity="0.82"/>
<rect x="694.53" y="222.60" width="2.5" height="13.30" fill="#f23645"/>
<rect x="699.06" y="224.20" width="1.04" height="20.90" fill="#f23645" opacity="0.82"/>
<rect x="698.33" y="234.80" width="2.5" height="5.60" fill="#f23645"/>
<rect x="702.87" y="176.70" width="1.04" height="63.70" fill="#089981" opacity="0.82"/>
<rect x="702.14" y="184.20" width="2.5" height="56.20" fill="#089981"/>
<rect x="706.67" y="180.10" width="1.04" height="16.30" fill="#f23645" opacity="0.82"/>
<rect x="705.94" y="188.70" width="2.5" height="6.70" fill="#f23645"/>
<rect x="710.48" y="173.00" width="1.04" height="25.80" fill="#f23645" opacity="0.82"/>
<rect x="709.75" y="185.10" width="2.5" height="2.50" fill="#f23645"/>
<rect x="714.28" y="164.70" width="1.04" height="29.10" fill="#f23645" opacity="0.82"/>
<rect x="713.55" y="181.70" width="2.5" height="11.40" fill="#f23645"/>
<rect x="718.09" y="187.10" width="1.04" height="8.80" fill="#f23645" opacity="0.82"/>
<rect x="717.36" y="188.70" width="2.5" height="3.10" fill="#f23645"/>
<rect x="721.89" y="180.10" width="1.04" height="13.70" fill="#f23645" opacity="0.82"/>
<rect x="721.16" y="188.70" width="2.5" height="3.10" fill="#f23645"/>
<rect x="725.70" y="153.70" width="1.04" height="33.00" fill="#089981" opacity="0.82"/>
<rect x="724.97" y="156.70" width="2.5" height="28.70" fill="#089981"/>
<rect x="729.51" y="145.90" width="1.04" height="27.70" fill="#f23645" opacity="0.82"/>
<rect x="728.78" y="149.80" width="2.5" height="20.90" fill="#f23645"/>
<rect x="733.31" y="162.50" width="1.04" height="27.60" fill="#f23645" opacity="0.82"/>
<rect x="732.58" y="168.30" width="2.5" height="20.40" fill="#f23645"/>
<rect x="737.12" y="179.20" width="1.04" height="14.20" fill="#089981" opacity="0.82"/>
<rect x="736.39" y="183.10" width="2.5" height="2.80" fill="#089981"/>
<rect x="740.92" y="177.60" width="1.04" height="10.50" fill="#f23645" opacity="0.82"/>
<rect x="740.19" y="182.10" width="2.5" height="3.80" fill="#f23645"/>
<rect x="744.73" y="180.90" width="1.04" height="17.50" fill="#f23645" opacity="0.82"/>
<rect x="744.00" y="185.40" width="2.5" height="11.70" fill="#f23645"/>
<rect x="748.53" y="166.70" width="1.04" height="30.40" fill="#089981" opacity="0.82"/>
<rect x="747.80" y="169.20" width="2.5" height="27.60" fill="#089981"/>
<rect x="752.34" y="153.00" width="1.04" height="20.00" fill="#089981" opacity="0.82"/>
<rect x="751.61" y="160.00" width="2.5" height="11.90" fill="#089981"/>
<rect x="756.14" y="149.30" width="1.04" height="10.00" fill="#089981" opacity="0.82"/>
<rect x="755.41" y="151.40" width="2.5" height="7.40" fill="#089981"/>
<rect x="759.95" y="146.80" width="1.04" height="22.20" fill="#f23645" opacity="0.82"/>
<rect x="759.22" y="149.80" width="2.5" height="12.10" fill="#f23645"/>
<rect x="763.75" y="140.10" width="1.04" height="27.40" fill="#089981" opacity="0.82"/>
<rect x="763.02" y="145.90" width="2.5" height="15.70" fill="#089981"/>
<rect x="767.56" y="131.70" width="1.04" height="15.50" fill="#089981" opacity="0.82"/>
<rect x="766.83" y="142.10" width="2.5" height="4.70" fill="#089981"/>
<rect x="771.36" y="120.40" width="1.04" height="24.70" fill="#089981" opacity="0.82"/>
<rect x="770.63" y="130.00" width="2.5" height="12.60" fill="#089981"/>
<rect x="775.17" y="127.50" width="1.04" height="18.40" fill="#f23645" opacity="0.82"/>
<rect x="774.44" y="130.20" width="2.5" height="15.00" fill="#f23645"/>
<rect x="778.97" y="133.40" width="1.04" height="28.70" fill="#f23645" opacity="0.82"/>
<rect x="778.24" y="145.10" width="2.5" height="15.30" fill="#f23645"/>
<rect x="782.78" y="146.40" width="1.04" height="25.10" fill="#f23645" opacity="0.82"/>
<rect x="782.05" y="153.00" width="2.5" height="14.00" fill="#f23645"/>
<rect x="786.58" y="157.10" width="1.04" height="9.10" fill="#089981" opacity="0.82"/>
<rect x="785.85" y="163.60" width="2.5" height="1.60" fill="#089981"/>
<rect x="790.39" y="146.40" width="1.04" height="22.40" fill="#089981" opacity="0.82"/>
<rect x="789.66" y="147.60" width="2.5" height="14.20" fill="#089981"/>
<rect x="794.20" y="133.70" width="1.04" height="17.20" fill="#089981" opacity="0.82"/>
<rect x="793.47" y="138.40" width="2.5" height="9.20" fill="#089981"/>
<rect x="798.00" y="130.90" width="1.04" height="19.50" fill="#f23645" opacity="0.82"/>
<rect x="797.27" y="138.40" width="2.5" height="8.40" fill="#f23645"/>
<rect x="801.81" y="135.10" width="1.04" height="33.40" fill="#f23645" opacity="0.82"/>
<rect x="801.08" y="136.70" width="2.5" height="25.30" fill="#f23645"/>
<rect x="805.61" y="129.20" width="1.04" height="24.20" fill="#f23645" opacity="0.82"/>
<rect x="804.88" y="148.10" width="2.5" height="3.80" fill="#f23645"/>
<rect x="809.42" y="138.40" width="1.04" height="21.60" fill="#f23645" opacity="0.82"/>
<rect x="808.69" y="148.40" width="2.5" height="8.60" fill="#f23645"/>
<rect x="813.22" y="163.80" width="1.04" height="26.30" fill="#f23645" opacity="0.82"/>
<rect x="812.49" y="171.90" width="2.5" height="11.80" fill="#f23645"/>
<rect x="817.03" y="152.30" width="1.04" height="27.80" fill="#089981" opacity="0.82"/>
<rect x="816.30" y="162.80" width="2.5" height="14.80" fill="#089981"/>
<rect x="820.83" y="157.10" width="1.04" height="11.50" fill="#f23645" opacity="0.82"/>
<rect x="820.10" y="159.90" width="2.5" height="6.10" fill="#f23645"/>
<rect x="824.64" y="157.10" width="1.04" height="17.90" fill="#f23645" opacity="0.82"/>
<rect x="823.91" y="165.00" width="2.5" height="6.90" fill="#f23645"/>
<rect x="828.44" y="137.60" width="1.04" height="34.00" fill="#089981" opacity="0.82"/>
<rect x="827.71" y="142.60" width="2.5" height="28.40" fill="#089981"/>
<rect x="832.25" y="144.70" width="1.04" height="8.90" fill="#f23645" opacity="0.82"/>
<rect x="831.52" y="148.80" width="2.5" height="4.20" fill="#f23645"/>
<rect x="836.05" y="147.60" width="1.04" height="24.50" fill="#f23645" opacity="0.82"/>
<rect x="835.32" y="148.80" width="2.5" height="22.80" fill="#f23645"/>
<rect x="839.86" y="159.30" width="1.04" height="12.10" fill="#089981" opacity="0.82"/>
<rect x="839.13" y="161.60" width="2.5" height="6.80" fill="#089981"/>
<rect x="843.66" y="147.60" width="1.04" height="20.90" fill="#f23645" opacity="0.82"/>
<rect x="842.93" y="161.00" width="2.5" height="6.20" fill="#f23645"/>
<rect x="847.47" y="170.10" width="1.04" height="25.00" fill="#f23645" opacity="0.82"/>
<rect x="846.74" y="171.30" width="2.5" height="21.80" fill="#f23645"/>
<rect x="851.27" y="188.10" width="1.04" height="23.40" fill="#f23645" opacity="0.82"/>
<rect x="850.54" y="191.80" width="2.5" height="10.80" fill="#f23645"/>
<rect x="855.08" y="182.10" width="1.04" height="10.50" fill="#089981" opacity="0.82"/>
<rect x="854.35" y="184.20" width="2.5" height="7.60" fill="#089981"/>
<rect x="858.89" y="166.20" width="1.04" height="15.90" fill="#089981" opacity="0.82"/>
<rect x="858.16" y="174.80" width="2.5" height="6.90" fill="#089981"/>
<rect x="862.69" y="151.50" width="1.04" height="25.30" fill="#089981" opacity="0.82"/>
<rect x="861.96" y="154.50" width="2.5" height="20.00" fill="#089981"/>
<rect x="866.50" y="128.40" width="1.04" height="28.40" fill="#089981" opacity="0.82"/>
<rect x="865.77" y="141.40" width="2.5" height="11.40" fill="#089981"/>
<rect x="870.30" y="139.20" width="1.04" height="11.70" fill="#f23645" opacity="0.82"/>
<rect x="869.57" y="141.70" width="2.5" height="7.10" fill="#f23645"/>
<rect x="874.11" y="146.80" width="1.04" height="20.00" fill="#f23645" opacity="0.82"/>
<rect x="873.38" y="147.60" width="2.5" height="7.20" fill="#f23645"/>
<rect x="877.91" y="122.50" width="1.04" height="38.10" fill="#089981" opacity="0.82"/>
<rect x="877.18" y="133.70" width="2.5" height="21.40" fill="#089981"/>
</g>
<line x1="771.58" y1="120.9" x2="965.5" y2="120.9" stroke="#4caf50" stroke-width="1.5"/>
<line x1="8" y1="418.6" x2="1016" y2="418.6" stroke="#eceff5" stroke-width="1" stroke-dasharray="1.6 0.8"/>
<g stroke="#e9ecf2" fill="none" stroke-linecap="square">
<line x1="8" y1="7.55" x2="1016" y2="7.55" stroke-width="1.3"/>
<line x1="7.55" y1="8" x2="7.55" y2="440" stroke-width="1.3"/>
<line x1="1016.15" y1="8" x2="1016.15" y2="440" stroke-width="1.9" stroke="#f0f3f7"/>
<line x1="8" y1="440" x2="1016" y2="440" stroke-width="2" stroke="#f0f3f7"/>
</g>
<g font-family="Liberation Sans, sans-serif">
<text transform="translate(971.50,399.40) scale(0.9276,1) rotate(0.03)" font-size="10.2" fill="#30343f" stroke="#30343f" stroke-width="0.2">1800.00</text>
<text transform="translate(971.50,363.65) scale(0.9276,1) rotate(0.03)" font-size="10.2" fill="#30343f" stroke="#30343f" stroke-width="0.2">2000.00</text>
<text transform="translate(971.50,327.90) scale(0.9276,1) rotate(0.03)" font-size="10.2" fill="#30343f" stroke="#30343f" stroke-width="0.2">2200.00</text>
<text transform="translate(971.50,292.15) scale(0.9276,1) rotate(0.03)" font-size="10.2" fill="#30343f" stroke="#30343f" stroke-width="0.2">2400.00</text>
<text transform="translate(971.50,256.40) scale(0.9276,1) rotate(0.03)" font-size="10.2" fill="#30343f" stroke="#30343f" stroke-width="0.2">2600.00</text>
<text transform="translate(971.50,220.65) scale(0.9276,1) rotate(0.03)" font-size="10.2" fill="#30343f" stroke="#30343f" stroke-width="0.2">2800.00</text>
<text transform="translate(971.50,184.90) scale(0.9276,1) rotate(0.03)" font-size="10.2" fill="#30343f" stroke="#30343f" stroke-width="0.2">3000.00</text>
<text transform="translate(971.50,149.15) scale(0.9276,1) rotate(0.03)" font-size="10.2" fill="#30343f" stroke="#30343f" stroke-width="0.2">3200.00</text>
<text transform="translate(971.50,113.40) scale(0.9276,1) rotate(0.03)" font-size="10.2" fill="#30343f" stroke="#30343f" stroke-width="0.2">3400.00</text>
<text transform="translate(971.50,77.65) scale(0.9276,1) rotate(0.03)" font-size="10.2" fill="#30343f" stroke="#30343f" stroke-width="0.2">3600.00</text>
<text transform="translate(971.50,41.90) scale(0.9276,1) rotate(0.03)" font-size="10.2" fill="#30343f" stroke="#30343f" stroke-width="0.2">3800.00</text>
</g>
<rect x="965.0" y="114.8" width="45.0" height="12.8" rx="1.5" fill="#4caf50"/>
<rect x="965.0" y="127.6" width="45.0" height="12.9" rx="1.5" fill="#089981"/>
<rect x="965.0" y="343.1" width="48.2" height="12.9" rx="1.5" fill="#26a69a"/>
<g font-family="Liberation Sans, sans-serif">
<text transform="translate(971.70,124.40) scale(0.9086,1) rotate(0.03)" font-size="10.2" fill="#fff" stroke="#fff" stroke-width="0.2">3342.00</text>
<text transform="translate(971.70,137.50) scale(0.9086,1) rotate(0.03)" font-size="10.2" fill="#fff" stroke="#fff" stroke-width="0.2">3265.30</text>
<text transform="translate(972.10,352.80) scale(0.9069,1) rotate(0.03)" font-size="10.2" fill="#fff" stroke="#fff" stroke-width="0.2">14.457M</text>
<text transform="translate(109.76,432.90) scale(0.9000,1) rotate(0.03)" font-size="10.2" fill="#30343f" stroke="#30343f" stroke-width="0.2" text-anchor="middle">Nov</text>
<text transform="translate(182.06,432.90) scale(0.9000,1) rotate(0.03)" font-size="10.2" fill="#30343f" stroke="#30343f" stroke-width="0.2" text-anchor="middle">Dec</text>
<text transform="translate(261.97,432.90) scale(0.9000,1) rotate(0.03)" font-size="10.2" fill="#30343f" stroke="#30343f" stroke-width="0.2" text-anchor="middle">2025</text>
<text transform="translate(349.50,432.90) scale(0.9000,1) rotate(0.03)" font-size="10.2" fill="#30343f" stroke="#30343f" stroke-width="0.2" text-anchor="middle">Feb</text>
<text transform="translate(425.60,432.90) scale(0.9000,1) rotate(0.03)" font-size="10.2" fill="#30343f" stroke="#30343f" stroke-width="0.2" text-anchor="middle">Mar</text>
<text transform="translate(497.90,432.90) scale(0.9000,1) rotate(0.03)" font-size="10.2" fill="#30343f" stroke="#30343f" stroke-width="0.2" text-anchor="middle">Apr</text>
<text transform="translate(570.20,432.90) scale(0.9000,1) rotate(0.03)" font-size="10.2" fill="#30343f" stroke="#30343f" stroke-width="0.2" text-anchor="middle">May</text>
<text transform="translate(650.11,432.90) scale(0.9000,1) rotate(0.03)" font-size="10.2" fill="#30343f" stroke="#30343f" stroke-width="0.2" text-anchor="middle">Jun</text>
<text transform="translate(730.03,432.90) scale(0.9000,1) rotate(0.03)" font-size="10.2" fill="#30343f" stroke="#30343f" stroke-width="0.2" text-anchor="middle">Jul</text>
<text transform="translate(817.55,432.90) scale(0.9000,1) rotate(0.03)" font-size="10.2" fill="#30343f" stroke="#30343f" stroke-width="0.2" text-anchor="middle">Aug</text>
<text transform="translate(893.60,432.90) scale(0.9000,1) rotate(0.03)" font-size="10.2" fill="#30343f" stroke="#30343f" stroke-width="0.2" text-anchor="middle">Sep</text>
<text transform="translate(14.00,22.50) scale(0.8428,1) rotate(0.03)" font-size="10.0" fill="#30343f" stroke="#30343f" stroke-width="0.2">WAAREEENER, 1D, NSE</text>
<text transform="translate(117.20,22.50) scale(0.8228,1) rotate(0.03)" font-size="10.0" fill="#30343f" stroke="#30343f" stroke-width="0.2">O</text>
<text transform="translate(124.40,22.50) scale(0.9185,1) rotate(0.03)" font-size="10.0" fill="#089981" stroke="#089981" stroke-width="0.2">3149.00</text>
<text transform="translate(162.90,22.50) scale(0.8170,1) rotate(0.03)" font-size="10.0" fill="#30343f" stroke="#30343f" stroke-width="0.2">H</text>
<text transform="translate(169.50,22.50) scale(0.9268,1) rotate(0.03)" font-size="10.0" fill="#089981" stroke="#089981" stroke-width="0.2">3329.80</text>
<text transform="translate(209.30,22.50) scale(0.7012,1) rotate(0.03)" font-size="10.0" fill="#30343f" stroke="#30343f" stroke-width="0.2">L</text>
<text transform="translate(213.70,22.50) scale(0.9208,1) rotate(0.03)" font-size="10.0" fill="#089981" stroke="#089981" stroke-width="0.2">3115.00</text>
<text transform="translate(252.30,22.50) scale(0.7616,1) rotate(0.03)" font-size="10.0" fill="#30343f" stroke="#30343f" stroke-width="0.2">C</text>
<text transform="translate(258.10,22.50) scale(0.9406,1) rotate(0.03)" font-size="10.0" fill="#089981" stroke="#089981" stroke-width="0.2">3265.30</text>
<text transform="translate(297.00,22.50) scale(0.9267,1) rotate(0.03)" font-size="10.0" fill="#089981" stroke="#089981" stroke-width="0.2">+114.20 (+3.62%)</text>
<text transform="translate(14.00,35.00) scale(0.9209,1) rotate(0.03)" font-size="10.0" fill="#30343f" stroke="#30343f" stroke-width="0.2">Volume (SMA, 9)</text>
<text transform="translate(89.90,35.00) scale(0.8994,1) rotate(0.03)" font-size="10.0" fill="#26a69a" stroke="#26a69a" stroke-width="0.2">14.457M</text>
</g>
<g fill="#131722">
<path d="M8 449.2h5.6v7.7h-2.6v-5.0H8z"/>
<circle cx="16.3" cy="450.9" r="1.25"/>
<path d="M18.6 449.2h3.7l-2.7 7.7h-3.5z"/>
</g>
<g font-family="Liberation Sans, sans-serif">
<text transform="translate(25.40,456.70) scale(1.1019,1) rotate(0.03)" font-size="9.4" fill="#2a2e39" stroke="#2a2e39" stroke-width="0.2">TradingView</text>
</g>
</svg>
</body></html>
